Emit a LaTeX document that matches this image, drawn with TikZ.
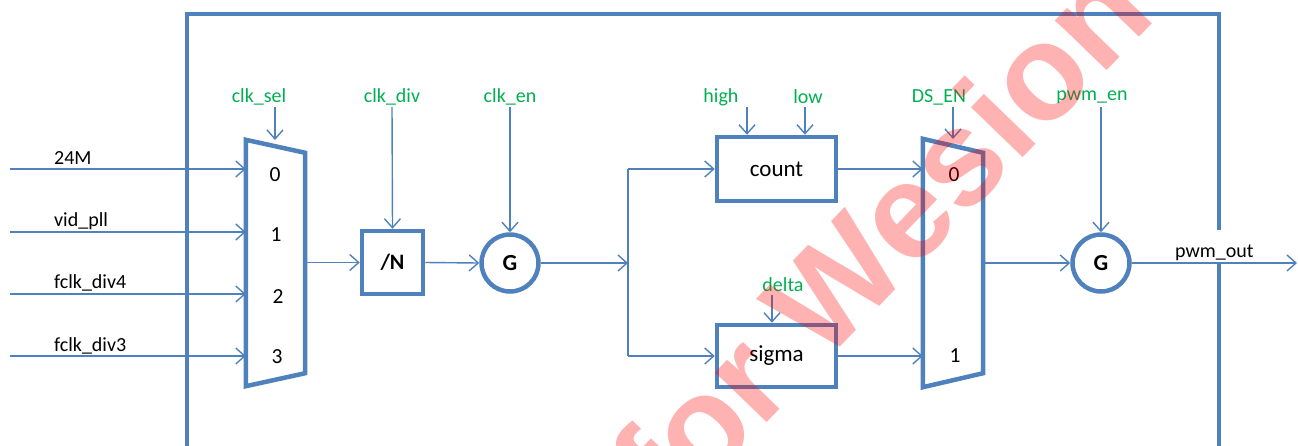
\documentclass[tikz,border=0pt]{standalone}
\usepackage{fontspec}
\setmainfont{Carlito}
\newfontfamily\wmfont{Liberation Sans}
\usetikzlibrary{arrows.meta,calc,positioning}
\definecolor{lineblue}{HTML}{4F81BD}
\definecolor{sigGreen}{HTML}{00B050}
\definecolor{wmred}{HTML}{FF0000}
\begin{document}
\begin{tikzpicture}[x=1pt,y=-1pt,
  thickline/.style={draw=lineblue,line width=4.5pt},
  conn/.style={draw=lineblue,line width=1.4pt,-{Straight Barb[length=9pt,width=16pt,line width=1.4pt]}},
  plainconn/.style={draw=lineblue,line width=1.4pt},
  blockbox/.style={thickline,rectangle,inner sep=0pt,font=\fontsize{23}{26}\selectfont},
  gate/.style={thickline,circle,minimum size=57pt,inner sep=0pt,font=\bfseries\fontsize{23}{26}\selectfont},
  muxbox/.style={rectangle,inner sep=0pt},
  siglabel/.style={text=sigGreen,font=\fontsize{20}{24}\selectfont,inner sep=0pt},
  inlabel/.style={text=black,font=\fontsize{20}{24}\selectfont,inner sep=0pt,anchor=west},
  numlabel/.style={text=black,font=\fontsize{21.5}{24}\selectfont,inner sep=0pt},
]
\useasboundingbox (0,0) rectangle (1298,445);

% outer frame
\coordinate (fbl) at (187,450);
\coordinate (ftl) at (187,14);
\coordinate (ftr) at (1219,14);
\coordinate (frgap1) at (1219,230);
\coordinate (frgap2) at (1219,263);
\coordinate (fbr) at (1219,450);
\draw[thickline] (fbl) -- (ftl) -- (ftr) -- (frgap1);
\draw[thickline] (frgap2) -- (fbr);

% first mux
\node[muxbox,minimum width=59pt,minimum height=246pt] (mux1) at (275.5,263) {};
\draw[thickline,line join=miter] (mux1.north west) -- ($(mux1.north east)+(0,13)$) -- ($(mux1.south east)+(0,-13)$) -- (mux1.south west) -- cycle;
\node[numlabel] (m1n0) at (275,175) {0};
\node[numlabel] (m1n1) at (276,235) {1};
\node[numlabel] (m1n2) at (278,297) {2};
\node[numlabel] (m1n3) at (277,357) {3};

% inputs
\coordinate (in0) at (10,169);
\coordinate (in1) at (10,232);
\coordinate (in2) at (10,294);
\coordinate (in3) at (10,356);
\draw[conn] (in0) -- (in0 -| mux1.west);
\draw[conn] (in1) -- (in1 -| mux1.west);
\draw[conn] (in2) -- (in2 -| mux1.west);
\draw[conn] (in3) -- (in3 -| mux1.west);
\node[inlabel] (l24m) at (54,158) {24M};
\node[inlabel] (lvid) at (54,221) {vid\_pll};
\node[inlabel] (lf4) at (54,283) {fclk\_div4};
\node[inlabel] (lf3) at (54,346) {fclk\_div3};

% clk_sel
\node[siglabel] (clksel) at (259,97) {clk\_sel};
\coordinate (clkselA) at (275,107);
\coordinate (clkselB) at (275,140);
\draw[conn] (clkselA) -- (clkselB);

% divider
\node[blockbox,minimum width=61pt,minimum height=63pt,font=\bfseries\fontsize{22}{26}\selectfont] (divN) at (392.5,262.5) {/N};
\node[siglabel] (clkdiv) at (392,97) {clk\_div};
\coordinate (clkdivA) at (392,107);
\draw[conn] (clkdivA) -- (divN.north);
\draw[conn] (mux1.east |- divN) -- (divN.west);

% gate 1
\node[gate] (g1) at (510,263) {G};
\node[siglabel] (clken) at (510,97) {clk\_en};
\coordinate (clkenA) at (510,107);
\draw[conn] (clkenA) -- (g1.north);
\draw[conn] (divN.east) -- (g1.west);

% split
\coordinate (split) at (628,263);
\coordinate (splitT) at (628,169);
\coordinate (splitB) at (628,356);
\draw[conn] (g1.east) -- (split);
\draw[plainconn] (splitT) -- (splitB);

% count / sigma
\node[blockbox,minimum width=119pt,minimum height=64pt] (count) at (776.5,169) {count};
\node[blockbox,minimum width=119pt,minimum height=62pt] (sigma) at (776.5,356) {sigma};
\draw[conn] (splitT) -- (count.west);
\draw[conn] (splitB) -- (sigma.west);

\node[siglabel] (high) at (721,97) {high};
\node[siglabel] (low) at (808,97) {low};
\coordinate (highA) at (747,107);
\coordinate (lowA) at (805,107);
\draw[conn] (highA) -- (highA |- count.north);
\draw[conn] (lowA) -- (lowA |- count.north);
\node[siglabel] (delta) at (783,285) {delta};
\coordinate (deltaA) at (772,295);
\draw[conn] (deltaA) -- (deltaA |- sigma.north);

% second mux
\node[muxbox,minimum width=60pt,minimum height=248pt] (mux2) at (953,263) {};
\draw[thickline,line join=miter] (mux2.north west) -- ($(mux2.north east)+(0,14)$) -- ($(mux2.south east)+(0,-14)$) -- (mux2.south west) -- cycle;
\node[numlabel] (m2n0) at (954,175) {0};
\node[numlabel] (m2n1) at (955,356) {1};
\draw[conn] (count.east) -- (count.east -| mux2.west);
\draw[conn] (sigma.east) -- (sigma.east -| mux2.west);
\node[siglabel] (dsen) at (939,97) {DS\_EN};
\coordinate (dsenA) at (953,107);
\coordinate (dsenB) at (953,139);
\draw[conn] (dsenA) -- (dsenB);

% gate 2
\node[gate] (g2) at (1101,263) {G};
\draw[conn] (mux2.east) -- (g2.west);
\node[siglabel] (pwmen) at (1092,97) {pwm\_en};
\coordinate (pwmenA) at (1101,107);
\draw[conn] (pwmenA) -- (g2.north);
\coordinate (out) at (1297,263);
\draw[conn] (g2.east) -- (out);
\node[inlabel,text=black] (pwmout) at (1175,253) {pwm\_out};

% watermark
\node[text=wmred,opacity=0.3,font=\wmfont\bfseries\fontsize{136}{136}\selectfont,rotate=46,inner sep=0pt] (wm) at (880,236) {for Wesion};
\end{tikzpicture}
\end{document}
